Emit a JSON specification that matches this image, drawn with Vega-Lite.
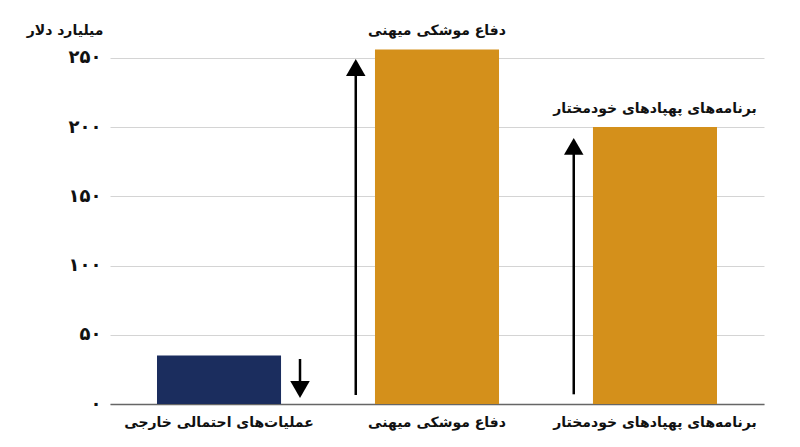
{
  "$schema": "https://vega.github.io/schema/vega-lite/v6.json",
  "autosize": {"type": "none"},
  "padding": {"left": 110, "top": 37, "right": 36, "bottom": 43},
  "width": 654,
  "height": 367,
  "background": "#ffffff",
  "config": {
    "view": {"stroke": null},
    "font": "DejaVu Sans"
  },
  "datasets": {
    "bars": [
      {"cat": "عملیات‌های احتمالی خارجی", "value": 35, "group": "down", "label": ""},
      {"cat": "دفاع موشکی میهنی", "value": 256, "group": "up", "label": "دفاع موشکی میهنی"},
      {"cat": "برنامه‌های پهپادهای خودمختار", "value": 200, "group": "up", "label": "برنامه‌های پهپادهای خودمختار"}
    ],
    "arrows": [
      {"cat": "عملیات‌های احتمالی خارجی", "side": "right", "start": 32.5, "end": 10, "head": 10.5, "dir": "down"},
      {"cat": "دفاع موشکی میهنی", "side": "left", "start": 6.5, "end": 243, "head": 243, "dir": "up"},
      {"cat": "برنامه‌های پهپادهای خودمختار", "side": "left", "start": 7, "end": 186, "head": 186, "dir": "up"}
    ]
  },
  "layer": [
    {
      "data": {"name": "bars"},
      "mark": {"type": "bar"},
      "encoding": {
        "x": {
          "field": "cat", "type": "nominal", "sort": null,
          "scale": {
            "domain": ["عملیات‌های احتمالی خارجی", "دفاع موشکی میهنی", "برنامه‌های پهپادهای خودمختار"],
            "paddingInner": 0.431, "paddingOuter": 0.2156
          },
          "axis": {
            "title": null, "labelAngle": 0, "ticks": false, "domainColor": "#666666", "domainWidth": 1.5,
            "labelFontSize": 14, "labelFontWeight": "bold", "labelColor": "#111111", "labelPadding": 11,
            "labelLimit": 300
          }
        },
        "y": {
          "field": "value", "type": "quantitative",
          "scale": {"domain": [0, 265], "nice": false},
          "axis": {
            "values": [0, 50, 100, 150, 200, 250],
            "labelExpr": "datum.value == 0 ? '۰' : datum.value == 50 ? '۵۰' : datum.value == 100 ? '۱۰۰' : datum.value == 150 ? '۱۵۰' : datum.value == 200 ? '۲۰۰' : '۲۵۰'",
            "domain": false, "ticks": false, "grid": true, "gridColor": "#d4d4d4", "gridWidth": 1,
            "labelFontSize": 18, "labelFontWeight": "bold", "labelColor": "#111111", "labelPadding": 9,
            "title": "میلیارد دلار", "titleAngle": 0, "titleAlign": "right", "titleBaseline": "middle",
            "titleX": -7, "titleY": -7, "titleFontSize": 14, "titleFontWeight": "bold", "titleColor": "#111111"
          }
        },
        "color": {
          "field": "group", "type": "nominal",
          "scale": {"domain": ["down", "up"], "range": ["#1b2d5e", "#d4901b"]},
          "legend": null
        }
      }
    },
    {
      "data": {"name": "bars"},
      "mark": {"type": "text", "baseline": "middle", "align": "center", "dy": -18, "fontSize": 14, "fontWeight": "bold", "color": "#111111"},
      "encoding": {
        "x": {"field": "cat", "type": "nominal", "sort": null},
        "y": {"field": "value", "type": "quantitative"},
        "text": {"field": "label"}
      }
    },
    {
      "data": {"name": "arrows"},
      "transform": [{"filter": "datum.side == 'left'"}],
      "layer": [
        {
          "mark": {"type": "rule", "strokeWidth": 2.5, "color": "#000000"},
          "encoding": {
            "x": {"field": "cat", "type": "nominal", "sort": null, "bandPosition": -0.155},
            "y": {"field": "start", "type": "quantitative"},
            "y2": {"field": "end"}
          }
        },
        {
          "mark": {"type": "point", "filled": true, "opacity": 1, "color": "#000000", "size": 380},
          "encoding": {
            "x": {"field": "cat", "type": "nominal", "sort": null, "bandPosition": -0.155},
            "y": {"field": "head", "type": "quantitative"},
            "shape": {"field": "dir", "type": "nominal", "scale": {"domain": ["up", "down"], "range": ["triangle-up", "triangle-down"]}, "legend": null}
          }
        }
      ]
    },
    {
      "data": {"name": "arrows"},
      "transform": [{"filter": "datum.side == 'right'"}],
      "layer": [
        {
          "mark": {"type": "rule", "strokeWidth": 2.5, "color": "#000000"},
          "encoding": {
            "x": {"field": "cat", "type": "nominal", "sort": null, "bandPosition": 1.153},
            "y": {"field": "start", "type": "quantitative"},
            "y2": {"field": "end"}
          }
        },
        {
          "mark": {"type": "point", "filled": true, "opacity": 1, "color": "#000000", "size": 380},
          "encoding": {
            "x": {"field": "cat", "type": "nominal", "sort": null, "bandPosition": 1.153},
            "y": {"field": "head", "type": "quantitative"},
            "shape": {"field": "dir", "type": "nominal", "scale": {"domain": ["up", "down"], "range": ["triangle-up", "triangle-down"]}, "legend": null}
          }
        }
      ]
    }
  ]
}
